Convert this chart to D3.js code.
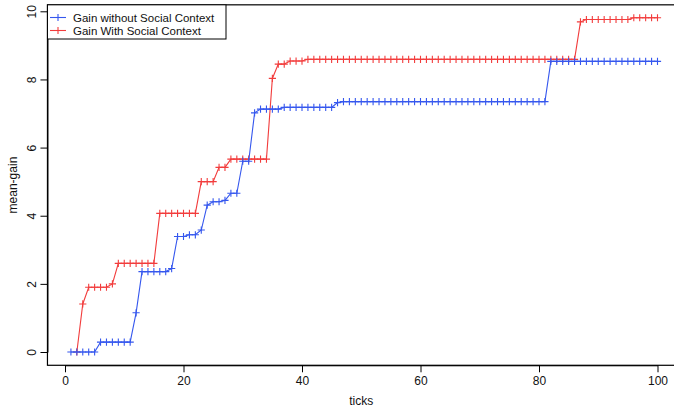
<!DOCTYPE html>
<html>
<head>
<meta charset="utf-8">
<script src="https://cdn.jsdelivr.net/npm/d3@7"></script>
<style>
    body { margin: 0; background: #fff; }
    svg text { font-family: "Liberation Sans", Arial, sans-serif; fill: #111; }
</style>
</head>
<body>
<div id="plot"></div>
<script>
// mean gain per tick
const ticksBlue = d3.range(1, 101)
const gainWithout = [
    0, 0, 0, 0, 0,
    0.29, 0.29, 0.29, 0.29, 0.29, 0.29,
    1.15,
    2.36, 2.36, 2.36, 2.36, 2.36,
    2.45,
    3.39, 3.39, 3.44, 3.44, 3.58,
    4.31, 4.41, 4.41, 4.45, 4.66, 4.66,
    5.6, 5.6,
    7.02, 7.13, 7.13, 7.13, 7.13,
    7.18, 7.18, 7.18, 7.18, 7.18, 7.18, 7.18, 7.18, 7.18,
    7.32,
    7.35, 7.35, 7.35, 7.35, 7.35, 7.35, 7.35, 7.35, 7.35, 7.35,
    7.35, 7.35, 7.35, 7.35, 7.35, 7.35, 7.35, 7.35, 7.35, 7.35,
    7.35, 7.35, 7.35, 7.35, 7.35, 7.35, 7.35, 7.35, 7.35, 7.35,
    7.35, 7.35, 7.35, 7.35, 7.35,
    8.53, 8.53, 8.53, 8.53, 8.53, 8.53, 8.53, 8.53, 8.53, 8.53,
    8.53, 8.53, 8.53, 8.53, 8.53, 8.53, 8.53, 8.53, 8.53
]

// red series starts one tick later
const ticksRed = d3.range(2, 101)
const gainWith = [
    0, 1.41,
    1.9, 1.9, 1.9, 1.9,
    2.0,
    2.6, 2.6, 2.6, 2.6, 2.6, 2.6, 2.6,
    4.07, 4.07, 4.07, 4.07, 4.07, 4.07, 4.07,
    5.0, 5.0, 5.0, 5.42, 5.42,
    5.66, 5.66, 5.66, 5.66, 5.66, 5.66, 5.66,
    8.03, 8.45, 8.45, 8.54, 8.54, 8.54,
    8.59, 8.59, 8.59, 8.59, 8.59, 8.59, 8.59, 8.59, 8.59, 8.59,
    8.59, 8.59, 8.59, 8.59, 8.59, 8.59, 8.59, 8.59, 8.59, 8.59,
    8.59, 8.59, 8.59, 8.59, 8.59, 8.59, 8.59, 8.59, 8.59, 8.59,
    8.59, 8.59, 8.59, 8.59, 8.59, 8.59, 8.59, 8.59, 8.59, 8.59,
    8.59, 8.59, 8.59, 8.59, 8.59, 8.59,
    9.69,
    9.76, 9.76, 9.76, 9.76, 9.76, 9.76, 9.76, 9.76,
    9.81, 9.81, 9.81, 9.81, 9.81
]

const xTicks = [0, 20, 40, 60, 80, 100]
const yTicks = [0, 2, 4, 6, 8, 10]
const seriesNames = ["Gain without Social Context", "Gain With Social Context"]
const seriesColors = ["#3557ee", "#f23c3c"]

const width = 674
const height = 413

const x = d3.scaleLinear().domain([0, 100]).range([65, 657.5])
const y = d3.scaleLinear().domain([0, 10]).range([352, 11.3])

// R style box: 4% past the data range
const boxLeft = x(-2.96), boxRight = x(103.96)
const boxTop = y(10.19), boxBottom = y(-0.39)

const svg = d3.select("#plot").append("svg")
    .attr("width", width)
    .attr("height", height)

svg.append("rect")
    .attr("x", boxLeft)
    .attr("y", boxTop)
    .attr("width", boxRight - boxLeft)
    .attr("height", boxBottom - boxTop)
    .attr("fill", "none")
    .attr("stroke", "#000")
    .attr("stroke-width", 1.2)

//axes
const xAxis = svg.append("g")
    .attr("transform", `translate(0, ${boxBottom})`)
    .call(d3.axisBottom(x).tickValues(xTicks).tickSize(7).tickSizeOuter(0).tickPadding(4))
const yAxis = svg.append("g")
    .attr("transform", `translate(${boxLeft}, 0)`)
    .call(d3.axisLeft(y).tickValues(yTicks).tickSize(7).tickSizeOuter(0).tickPadding(4))

svg.selectAll(".tick text").style("font-size", "12px")
yAxis.selectAll(".tick text")
    .attr("text-anchor", "middle")
    .attr("x", 0)
    .attr("dy", 0)
    .attr("transform", "translate(-15, 0) rotate(-90)")
    .attr("dominant-baseline", "central")

svg.append("text")
    .attr("text-anchor", "middle")
    .attr("x", x(50))
    .attr("y", 405)
    .style("font-size", "12px")
    .text("ticks")
svg.append("text")
    .attr("text-anchor", "middle")
    .attr("transform", `translate(17, ${(boxTop + boxBottom) / 2}) rotate(-90)`)
    .style("font-size", "12px")
    .text("mean-gain")

// series: red first so blue sits on top
const line = d3.line().x(d => x(d[0])).y(d => y(d[1]))
const plus = "M-3.6,0H3.6M0,-3.6V3.6"

const drawSeries = (ts, vals, color) => {
    const pts = ts.map((t, i) => [t, vals[i]])
    const g = svg.append("g")
    g.append("path")
        .attr("d", line(pts))
        .attr("fill", "none")
        .attr("stroke", color)
        .attr("stroke-width", 1.1)
    g.selectAll("path.pt").data(pts).join("path")
        .attr("class", "pt")
        .attr("d", plus)
        .attr("transform", d => `translate(${x(d[0])}, ${y(d[1])})`)
        .attr("stroke", color)
        .attr("stroke-width", 1.1)
}

drawSeries(ticksRed, gainWith, seriesColors[1])
drawSeries(ticksBlue, gainWithout, seriesColors[0])

//legend
const legend = svg.append("g")
legend.append("rect")
    .attr("x", boxLeft)
    .attr("y", boxTop)
    .attr("width", 226 - boxLeft)
    .attr("height", 39 - boxTop)
    .attr("fill", "#fff")
    .attr("stroke", "#000")
    .attr("stroke-width", 1)

seriesNames.forEach((name, i) => {
    const ly = 17.5 + i * 13
    legend.append("path")
        .attr("d", `M50,${ly}H66`)
        .attr("stroke", seriesColors[i])
        .attr("stroke-width", 1.1)
    legend.append("path")
        .attr("d", plus)
        .attr("transform", `translate(58, ${ly})`)
        .attr("stroke", seriesColors[i])
        .attr("stroke-width", 1.1)
    legend.append("text")
        .attr("x", 73)
        .attr("y", ly)
        .attr("dominant-baseline", "central")
        .style("font-size", "11.5px")
        .text(name)
})
</script>
</body>
</html>
